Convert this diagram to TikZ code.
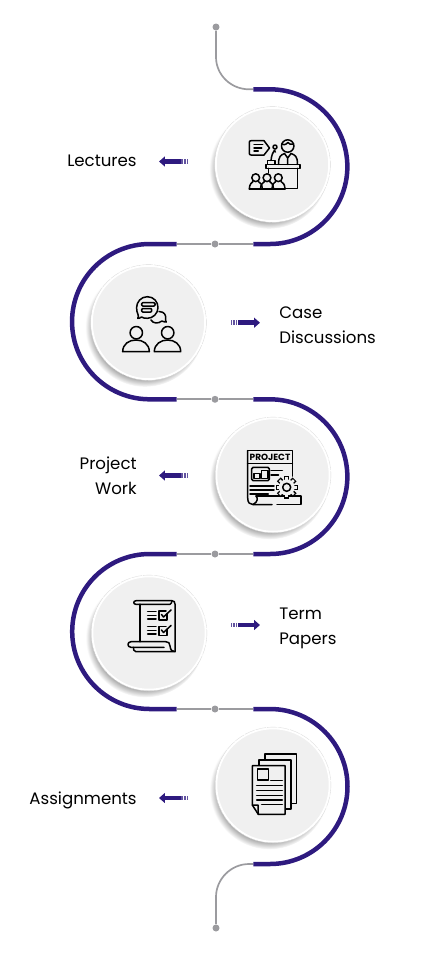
\documentclass[tikz,border=0pt]{standalone}
\usepackage{fontspec}
\setmainfont{Poppins}
\usetikzlibrary{arrows.meta,shadows}
\definecolor{navypath}{HTML}{2E1A7F}
\definecolor{graylink}{HTML}{9B9B9F}
\definecolor{discfill}{HTML}{F0F0F0}
\definecolor{inktext}{HTML}{000000}
\begin{document}
\begin{tikzpicture}[
    x=0.02cm, y=-0.02cm,
    station/.style={circle, draw=white, fill=discfill, line width=0.04cm, minimum size=2.27cm, inner sep=0pt,
      circular drop shadow={shadow xshift=-0.07cm, shadow yshift=-0.09cm, shadow scale=1.05, opacity=0.75}},
    ring/.style={draw=black!14, line width=0.2pt, dash pattern=on 6pt off 0.6pt},
    dotnode/.style={circle, fill=graylink, inner sep=0pt, minimum size=0.14cm},
    navyline/.style={draw=navypath, line width=0.09cm},
    grayline/.style={draw=graylink, line width=0.034cm},
    tagtext/.style={font=\fontsize{9.45pt}{14.2pt}\selectfont, text=inktext, inner sep=0pt},
    arrowbody/.style={draw=navypath, line width=0.09cm, -{Triangle[width=0.2cm, length=0.12cm]}},
    arrowtail/.style={draw=navypath!75, line width=0.09cm, dash pattern=on 0.02cm off 0.014cm},
    icon/.style={draw=black, line width=0.03cm, line cap=round, line join=round},
    iconfill/.style={icon, fill=discfill}
  ]
    \useasboundingbox (0,0) rectangle (420,968);

    % Gray links and dots
    \node[dotnode] (dtop) at (216,27) {};
    \coordinate (gtop) at (216,57);
    \coordinate (ja) at (253.3,89.3);
    \draw[grayline] (dtop) -- (gtop) .. controls (216,75) and (231,89.3) .. (249,89.3) -- (ja);

    \node[dotnode] (da) at (215,244) {};
    \node[dotnode] (db) at (215,399.3) {};
    \node[dotnode] (dc) at (215,554) {};
    \node[dotnode] (dd) at (215,709) {};
    \coordinate (jal) at (176.7,244);
    \coordinate (jar) at (253.3,244);
    \coordinate (jbl) at (176.7,399.3);
    \coordinate (jbr) at (253.3,399.3);
    \coordinate (jcl) at (176.7,554);
    \coordinate (jcr) at (253.3,554);
    \coordinate (jdl) at (176.7,709);
    \coordinate (jdr) at (253.3,709);
    \draw[grayline] (jal) -- (da) -- (jar);
    \draw[grayline] (jbl) -- (db) -- (jbr);
    \draw[grayline] (jcl) -- (dc) -- (jcr);
    \draw[grayline] (jdl) -- (dd) -- (jdr);

    \node[dotnode] (dbot) at (216,928) {};
    \coordinate (gbot) at (216,897);
    \coordinate (je) at (253.3,864);
    \draw[grayline] (je) -- (249,864) .. controls (231,864) and (216,879) .. (gbot) -- (dbot);

    % Navy bends
    \draw[navyline] (ja) -- (270,89.3) arc (-90:90:77.35) -- (jar);
    \draw[navyline] (jal) -- (149.7,244) arc (270:90:77.65) -- (jbl);
    \draw[navyline] (jbr) -- (270,399.3) arc (-90:90:77.35) -- (jcr);
    \draw[navyline] (jcl) -- (149.7,554) arc (270:90:77.5) -- (jdl);
    \draw[navyline] (jdr) -- (270,709) arc (-90:90:77.5) -- (je);

    % Discs
    \node[station] (lecture) at (272.5,164.5) {};
    \node[station] (casedisc) at (148.5,322.5) {};
    \node[station] (project) at (273,475) {};
    \node[station] (term) at (149,633) {};
    \node[station] (assign) at (273,785) {};
    \draw[ring] (lecture) circle (57.9);
    \draw[ring] (casedisc) circle (57.9);
    \draw[ring] (project) circle (57.9);
    \draw[ring] (term) circle (57.9);
    \draw[ring] (assign) circle (57.9);

    % Labels
    \node[tagtext, anchor=east] (lecturetag) at (137,160.5) {Lectures};
    \node[tagtext, anchor=west, align=left] (casetag) at (279,325) {Case\\Discussions};
    \node[tagtext, anchor=east, align=right] (projecttag) at (137,476) {Project\\Work};
    \node[tagtext, anchor=west, align=left] (termtag) at (279,628.5) {Term\\Papers};
    \node[tagtext, anchor=east] (assigntag) at (137,800.5) {Assignments};

    % Arrows
    \coordinate (la) at (188,161.5);
    \coordinate (lb) at (181,161.5);
    \coordinate (lc) at (159,161.5);
    \draw[arrowtail] (la) -- (lb);
    \draw[arrowbody] (lb) -- (lc);
    \coordinate (ca) at (231,322.7);
    \coordinate (cb) at (238,322.7);
    \coordinate (cc) at (260,322.7);
    \draw[arrowtail] (ca) -- (cb);
    \draw[arrowbody] (cb) -- (cc);
    \coordinate (pa) at (188,475.5);
    \coordinate (pb) at (181,475.5);
    \coordinate (pc) at (159,475.5);
    \draw[arrowtail] (pa) -- (pb);
    \draw[arrowbody] (pb) -- (pc);
    \coordinate (ta) at (231,625);
    \coordinate (tb) at (238,625);
    \coordinate (tc) at (260,625);
    \draw[arrowtail] (ta) -- (tb);
    \draw[arrowbody] (tb) -- (tc);
    \coordinate (aa) at (188,798);
    \coordinate (ab) at (181,798);
    \coordinate (ac) at (159,798);
    \draw[arrowtail] (aa) -- (ab);
    \draw[arrowbody] (ab) -- (ac);

    % Icon - speaker at a podium
    \draw[icon] (251,140.7) -- (264,140.7) -- (269.5,148) -- (264,155) -- (251,155) .. controls (249.5,155) and (249.3,154) .. (249.3,153) -- (249.3,142.5) .. controls (249.3,141.5) and (249.5,140.7) .. (251,140.7);
    \draw[icon] (254,144.3) -- (262.7,144.3) (254,147.8) -- (261.7,147.8) (254,151.2) -- (258.3,151.2);
    \draw[icon] (287.7,146) circle (6.2);
    \draw[icon] (282,144) .. controls (285,146) and (287,143) .. (288,142.5) .. controls (289,143) and (291,146) .. (293.5,144);
    \draw[icon] (278.5,164.3) .. controls (278.5,156) and (281,155) .. (284.5,153.5) (291,153.5) .. controls (295,155) and (297.5,156) .. (297.5,164.3);
    \draw[icon] (284.5,153.5) -- (287.7,158) -- (291,153.5) (287.7,158) -- (287.7,164.3);
    \draw[icon] (266,164.3) rectangle (300,168.3);
    \draw[icon] (267.5,164.3) rectangle (275,160.5);
    \draw[icon] (271,160.5) .. controls (271.5,155) and (273,152) .. (275,150);
    \draw[icon] (274,151) -- (275.5,152) (275,147) circle (2);
    \draw[icon] (297.7,168.3) -- (297.7,188.6) -- (285,188.6);
    \draw[icon] (268.3,168.3) -- (268.3,173);
    \draw[iconfill] (249.3,189) .. controls (249.3,184) and (252,182.5) .. (253,181.5) (258.3,181.5) .. controls (260,182.5) and (262.3,184) .. (262.3,189);
    \draw[icon] (260.5,189) .. controls (260.5,184) and (263.5,182.5) .. (264.5,181.5) (269.7,181.5) .. controls (271,182.5) and (273.5,184) .. (273.5,189);
    \draw[icon] (272,189) .. controls (272,184) and (274.5,182.5) .. (275.7,181.5) (281,181.5) .. controls (282.5,182.5) and (285,184) .. (285,189);
    \draw[icon] (249.3,189) -- (285,189);
    \draw[icon] (255.7,177.7) circle (3.9) (267,177.7) circle (3.9) (278.3,177.7) circle (3.9);

    % Icon - two people talking
    \draw[icon] (159,311.5) .. controls (165,311.5) and (166,316) .. (165.5,318) .. controls (165.3,320) and (165.5,321) .. (166.3,322) .. controls (164,322) and (163,321.5) .. (162,321) .. controls (158,324) and (153,323.5) .. (151,320);
    \draw[iconfill] (147.3,296.7) .. controls (154,296.7) and (158,302) .. (158,307.5) .. controls (158,313.5) and (153,318.3) .. (147.3,318.3) .. controls (145,318.3) and (143,318) .. (141.5,317) .. controls (140,318) and (139,318.5) .. (137.8,318.3) .. controls (138.5,317) and (138.5,315.5) .. (138,314.5) .. controls (137,312.5) and (136.6,310) .. (136.6,307.5) .. controls (136.6,302) and (141,296.7) .. (147.3,296.7) -- cycle;
    \draw[icon, rounded corners=0.02cm] (141.7,302.7) rectangle (155,306);
    \draw[icon, rounded corners=0.02cm] (141.7,308.5) rectangle (151.7,312);
    \draw[icon] (136.3,332.7) circle (6.2) (167.7,332.7) circle (6.2);
    \draw[icon] (122.7,351.7) .. controls (122.7,344) and (129,340) .. (136,340) .. controls (143,340) and (149.3,344) .. (149.3,351.7) -- cycle;
    \draw[icon] (154.3,351.7) .. controls (154.3,344) and (161,340) .. (167.5,340) .. controls (174.5,340) and (180.7,344) .. (180.7,351.7) -- cycle;

    % Icon - project sheet
    \draw[icon] (247.7,450.7) -- (292.3,450.7) -- (292.3,476);
    \draw[icon] (247.7,450.7) -- (247.7,498) .. controls (247.7,503) and (250,504.5) .. (253,504.5) -- (272,504.5);
    \draw[icon] (247.7,463.3) -- (292.3,463.3);
    \node[inner sep=0pt, font=\bfseries\fontsize{5.1pt}{5.1pt}\selectfont] (projectword) at (270,457.2) {PROJECT};
    \draw[icon, rounded corners=0.03cm] (251.7,467.3) rectangle (269.3,480.7);
    \draw[icon] (254,473.5) rectangle (260,478.5) (261.7,470.7) rectangle (268,478.5);
    \draw[icon] (271,470.7) -- (282.3,470.7) (271,475) -- (278.5,475);
    \draw[icon] (250,486) -- (274,486) (250,490) -- (274,490) (250,494) -- (268.3,494);
    \draw[icon] (256,496) -- (301,496) (277,504.3) -- (301,504.3) (301,496) -- (301,504.3);
    \draw[icon] (256,496) .. controls (258,498) and (258,502) .. (253,504.5);
    \foreach \toothangle in {0,45,...,315} {
      \draw[draw=black, line width=0.11cm] ([shift={(\toothangle:7)}]286.7,487.3) -- ([shift={(\toothangle:11.2)}]286.7,487.3);
      \draw[draw=discfill, line width=0.05cm] ([shift={(\toothangle:7)}]286.7,487.3) -- ([shift={(\toothangle:10)}]286.7,487.3);
    }
    \fill[discfill] (286.7,487.3) circle (8);
    \draw[icon] (286.7,487.3) circle (4);

    % Icon - checklist scroll
    \draw[icon] (140,604.3) -- (136,604.3) .. controls (133,604.3) and (133,600.7) .. (136,600.7) -- (172,600.7) .. controls (174,600.7) and (175,602) .. (175,604) -- (175,651.7);
    \draw[icon] (140,604.3) -- (170,604.3) .. controls (171,604.3) and (172,602) .. (172,600.7);
    \draw[icon] (140,604.3) -- (140,641.7);
    \draw[icon] (147.7,611.7) -- (156,611.7) (147.7,615.3) -- (156,615.3) (147.7,619) -- (156,619);
    \draw[icon] (147.7,626.7) -- (156,626.7) (147.7,630.3) -- (156,630.3) (147.7,634) -- (156,634);
    \draw[icon] (166,611) -- (159,611) -- (159,620) -- (167,620) -- (167,614);
    \draw[icon] (161.5,614.5) -- (163.5,617) -- (171,610);
    \draw[icon] (166,626.7) -- (159,626.7) -- (159,635.5) -- (167,635.5) -- (167,629.5);
    \draw[icon] (161.5,630) -- (163.5,632.5) -- (171,625.5);
    \draw[icon] (166,641.7) -- (131,641.7) .. controls (127,641.7) and (127,647.3) .. (131,647.3) -- (164,647.3);
    \draw[icon] (166,641.7) .. controls (169,641.7) and (169.5,643) .. (170,646) .. controls (170.5,650) and (172,651.7) .. (175,651.7) -- (136,651.7) .. controls (133.5,651.7) and (133.5,649) .. (133.5,647.3);

    % Icon - stacked papers
    \draw[iconfill] (265,754) rectangle (296.7,803.3);
    \draw[iconfill] (259,760) rectangle (291,809);
    \draw[iconfill] (252.3,765.7) -- (285,765.7) -- (285,814.3) -- (258.3,814.3) -- (252.3,805) -- cycle;
    \draw[icon] (252.3,805) -- (258,805) -- (258.3,814.3);
    \draw[icon] (257.3,769) rectangle (268.3,780);
    \draw[icon] (270.7,780.7) -- (282.3,780.7);
    \draw[icon] (256.7,785.7) -- (282.3,785.7) (256.7,790.7) -- (282.3,790.7) (256.7,795.7) -- (282.3,795.7) (256.7,800) -- (282.3,800) (261.7,804.3) -- (282.3,804.3);

  \end{tikzpicture}
\end{document}
